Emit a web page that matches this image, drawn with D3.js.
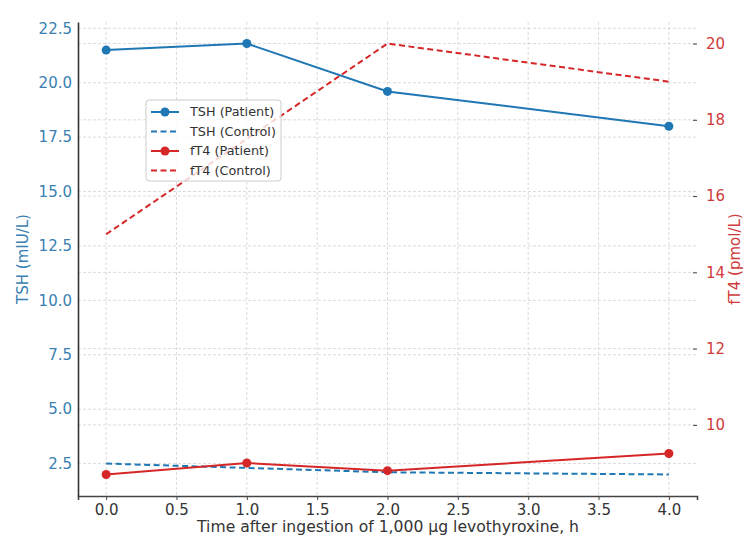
<!DOCTYPE html>
<html>
<head>
<meta charset="utf-8">
<script src="https://cdn.jsdelivr.net/npm/d3@7"></script>
<style>
  body { margin: 0; background: #fff; }
  svg { font-family: "DejaVu Sans", sans-serif; }
</style>
</head>
<body>
<svg id="chart" width="750" height="554"></svg>
<script>
// values
const times = [0, 1, 2, 4];
const tshPatient = [21.5, 21.8, 19.6, 18.0];
const tshControl = [2.5, 2.3, 2.1, 2.0];
const ft4Patient = [8.7, 9.0, 8.8, 9.25];
const ft4Control = [15, 17.5, 20, 19];
const xTicks = [0, 0.5, 1, 1.5, 2, 2.5, 3, 3.5, 4];
const tshTicks = [2.5, 5, 7.5, 10, 12.5, 15, 17.5, 20, 22.5];
const ft4Ticks = [10, 12, 14, 16, 18, 20];

const blue = "#1f77b4", red = "#d62728", gridColor = "#d2d2d2";
const blueText = "#3a7fb2", redText = "#cf3b3b";

const svg = d3.select("#chart");
const margin = {top: 22, right: 53, bottom: 58, left: 78};
const width = 750 - margin.left - margin.right;
const height = 554 - margin.top - margin.bottom;

// matplotlib-like 5% padding
function padded(vals) {
  const [lo, hi] = d3.extent(vals);
  const p = (hi - lo) * 0.05;
  return [lo - p, hi + p];
}

const x = d3.scaleLinear().domain(padded(times)).range([0, width]);
const yL = d3.scaleLinear().domain(padded(tshPatient.concat(tshControl))).range([height, 0]);
const yR = d3.scaleLinear().domain(padded(ft4Patient.concat(ft4Control))).range([height, 0]);

const g = svg.append("g").attr("transform", "translate(" + margin.left + "," + margin.top + ")");

// grids
const grid = g.append("g").attr("stroke", gridColor).attr("stroke-width", 0.8).attr("stroke-dasharray", "3,2");
grid.selectAll(".vx").data(xTicks).enter().append("line")
    .attr("x1", d => x(d)).attr("x2", d => x(d)).attr("y1", 0).attr("y2", height);
grid.selectAll(".hl").data(tshTicks).enter().append("line")
    .attr("x1", 0).attr("x2", width).attr("y1", d => yL(d)).attr("y2", d => yL(d));
grid.selectAll(".hr").data(ft4Ticks).enter().append("line")
    .attr("x1", 0).attr("x2", width).attr("y1", d => yR(d)).attr("y2", d => yR(d));

// axes
const xAxis = g.append("g").attr("transform", "translate(0," + height + ")")
    .call(d3.axisBottom(x).tickValues(xTicks).tickFormat(d3.format(".1f")).tickSizeOuter(0).tickSize(4).tickPadding(4));
xAxis.select(".domain").attr("stroke", "#444").attr("stroke-width", 1.6);
xAxis.selectAll(".tick line").attr("stroke", "#444");
xAxis.selectAll("text").attr("font-size", 15).attr("fill", "#333").attr("font-family", "DejaVu Sans");

const lAxis = g.append("g")
    .call(d3.axisLeft(yL).tickValues(tshTicks).tickFormat(d3.format(".1f")).tickSizeOuter(0).tickSize(0).tickPadding(6));
lAxis.select(".domain").attr("stroke", "#333").attr("stroke-width", 1.6);
lAxis.selectAll("text").attr("font-size", 15).attr("fill", blueText).attr("font-family", "DejaVu Sans");

const rAxis = g.append("g").attr("transform", "translate(" + width + ",0)")
    .call(d3.axisRight(yR).tickValues(ft4Ticks).tickFormat(d3.format("d")).tickSizeOuter(0).tickSize(4).tickPadding(5));
rAxis.select(".domain").remove();
rAxis.selectAll(".tick line").attr("stroke", "#444").attr("x1", -4).attr("x2", 0);
rAxis.selectAll("text").attr("font-size", 15).attr("fill", redText).attr("font-family", "DejaVu Sans");

// axis titles
svg.append("text").attr("x", 388).attr("y", 532)
    .attr("text-anchor", "middle").attr("font-size", 15.6).attr("fill", "#333")
    .text("Time after ingestion of 1,000 µg levothyroxine, h");
svg.append("text").attr("transform", "translate(28," + (margin.top + height / 2) + ") rotate(-90)")
    .attr("text-anchor", "middle").attr("font-size", 15).attr("fill", blueText)
    .text("TSH (mIU/L)");
svg.append("text").attr("transform", "translate(740," + (margin.top + height / 2) + ") rotate(-90)")
    .attr("text-anchor", "middle").attr("font-size", 15).attr("fill", redText)
    .text("fT4 (pmol/L)");

// series
const series = [
  {name: "TSH (Patient)", vals: tshPatient, y: yL, color: blue, dash: null, marker: true},
  {name: "TSH (Control)", vals: tshControl, y: yL, color: blue, dash: "6,3.5", marker: false},
  {name: "fT4 (Patient)", vals: ft4Patient, y: yR, color: red, dash: null, marker: true},
  {name: "fT4 (Control)", vals: ft4Control, y: yR, color: red, dash: "6,3.5", marker: false}
];

series.forEach(s => {
  const line = d3.line().x((d, i) => x(times[i])).y(d => s.y(d));
  g.append("path").datum(s.vals)
      .attr("fill", "none").attr("stroke", s.color).attr("stroke-width", 2)
      .attr("stroke-dasharray", s.dash).attr("d", line);
  if (s.marker) {
    g.selectAll(null).data(s.vals).enter().append("circle")
        .attr("cx", (d, i) => x(times[i])).attr("cy", d => s.y(d))
        .attr("r", 4.5).attr("fill", s.color);
  }
});

// legend
const legend = svg.append("g").attr("transform", "translate(146,100)");
legend.append("rect").attr("width", 135).attr("height", 81).attr("rx", 3)
    .attr("fill", "#fff").attr("fill-opacity", 0.8).attr("stroke", "#ccc");
series.forEach((s, i) => {
  const row = legend.append("g").attr("transform", "translate(0," + (12 + i * 19.5) + ")");
  row.append("line").attr("x1", 5).attr("x2", 33).attr("stroke", s.color)
      .attr("stroke-width", 2).attr("stroke-dasharray", s.dash);
  if (s.marker) row.append("circle").attr("cx", 19).attr("r", 4.5).attr("fill", s.color);
  row.append("text").attr("x", 44).attr("dy", "0.35em").attr("font-size", 12.8)
      .attr("fill", "#333").text(s.name);
});
</script>
</body>
</html>
